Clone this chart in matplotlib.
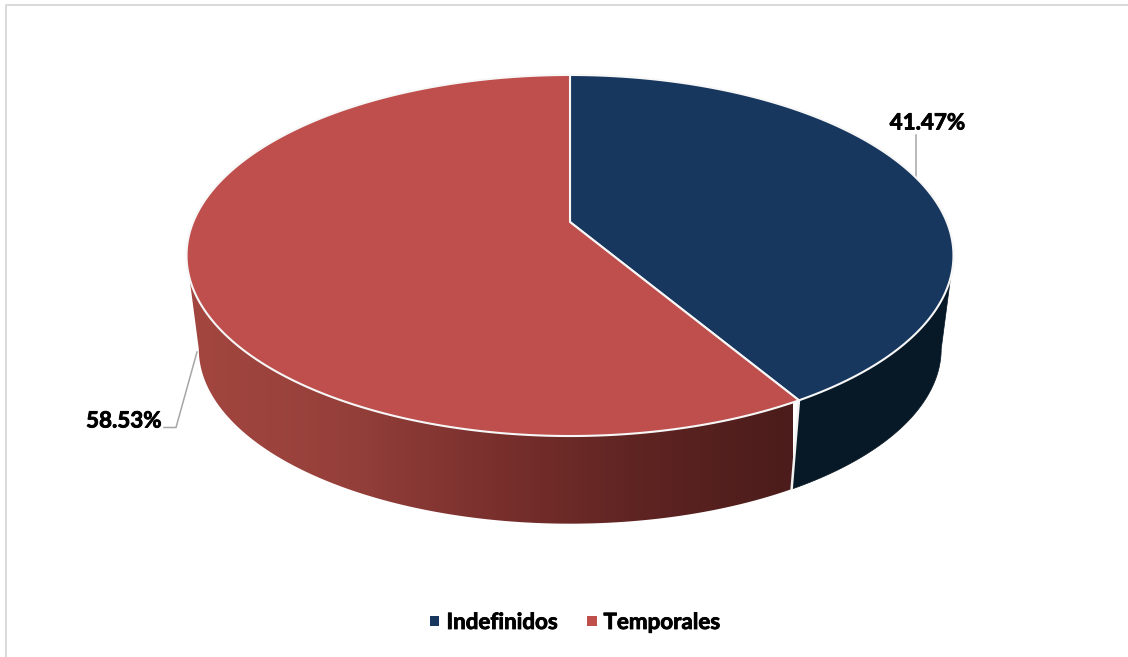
import numpy as np
import matplotlib
matplotlib.use("Agg")
import matplotlib.pyplot as plt
from matplotlib.patches import Polygon
from matplotlib.colors import LinearSegmentedColormap
import matplotlib.patheffects as pe

categories = ["Indefinidos", "Temporales"]
shares = [41.47, 58.53]
colors = ["#17375E", "#BE4F4C"]
label_text = ["41.47%", "58.53%"]

W, H = 1128, 657

# perspective of the top disc, worked out from the picture
cx, cy = 570.0, 222.0
A, B, k = 376.8, 174.3, 0.1856
depth_scale, bottom_cy = 0.968, 316.5


def top_pts(theta):
    u, v = np.sin(theta), -np.cos(theta)
    w = 1 - k * v
    return np.column_stack([cx + A * u / w, cy + B * v / w])


def bottom_pts(theta):
    p = top_pts(theta)
    return np.column_stack([cx + depth_scale * (p[:, 0] - cx), bottom_cy + depth_scale * (p[:, 1] - cy)])


fig = plt.figure(figsize=(W / 100, H / 100), dpi=100)
ax = fig.add_axes([0, 0, 1, 1])

# chart frame, only top and left show in the crop
ax.plot([5.5, 5.5, W + 2], [H - 0.5, 5, 5], color="#D9D9D9", lw=1.4, zorder=1)

fractions = np.array(shares) / sum(shares)
edges = np.concatenate([[0], np.cumsum(fractions)]) * 2 * np.pi

# walls: only from the widest point of the disc round to the separator
sep = edges[1]
th_all = np.linspace(0, 2 * np.pi, 1441)
x_all = top_pts(th_all)[:, 0]
th_right = th_all[np.argmax(x_all)]
th_left = th_all[np.argmin(x_all)]

th = np.linspace(th_right, sep, 300)
navy_side = Polygon(np.vstack([top_pts(th), bottom_pts(th)[::-1]]), closed=True,
                    fc="#071826", ec="#071826", lw=0.5, zorder=2)
ax.add_patch(navy_side)

th = np.linspace(sep, th_left, 300)
red_side = Polygon(np.vstack([top_pts(th), bottom_pts(th)[::-1]]), closed=True, fc="none", ec="none", zorder=2)
ax.add_patch(red_side)
side_cmap = LinearSegmentedColormap.from_list("side", ["#A3463F", "#96403B", "#7A302D", "#5E2422", "#4B1C1B"])
grad = np.linspace(0, 1, 512).reshape(1, -1)
im = ax.imshow(grad, cmap=side_cmap, extent=[190, 793, 530, 100], aspect="auto", zorder=2.1)
im.set_clip_path(red_side)

ax.set_xlim(0, W)
ax.set_ylim(H, 0)
ax.axis("off")

# wall separator
p0 = top_pts(np.array([sep]))[0]
p1 = bottom_pts(np.array([sep]))[0]
ax.plot([p0[0], p1[0]], [p0[1], p1[1]], color="#F2F2F2", lw=1.8, zorder=3)

# top face
for i in range(2):
    th = np.linspace(edges[i], edges[i + 1], 400)
    pts = np.vstack([[cx, cy], top_pts(th)])
    ax.add_patch(Polygon(pts, closed=True, fc=colors[i], ec="#F7F7F7", lw=1.5, joinstyle="round", zorder=4))

# leader lines and labels
ax.plot([916, 916], [135, 180], color="#A6A6A6", lw=1.1, zorder=3)
ax.plot([164, 176, 197], [427.5, 427.5, 352], color="#A6A6A6", lw=1.1, zorder=5)
font = dict(family="Lato", weight="bold", color="black", fontsize=16.1,
            path_effects=[pe.withStroke(linewidth=0.6, foreground="black")])
ax.text(927.5, 123, label_text[0], ha="center", va="center", zorder=6, **font)
ax.text(124, 421, label_text[1], ha="center", va="center", zorder=6, **font)

# legend
ax.scatter([434.5, 592], [621, 621], marker="s", s=42, c=colors, linewidths=0, zorder=6)
ax.text(446.5, 622.5, categories[0], ha="left", va="center", **font)
ax.text(603.5, 622.5, categories[1], ha="left", va="center", **font)

fig.savefig("out.png", dpi=100, facecolor="white")
